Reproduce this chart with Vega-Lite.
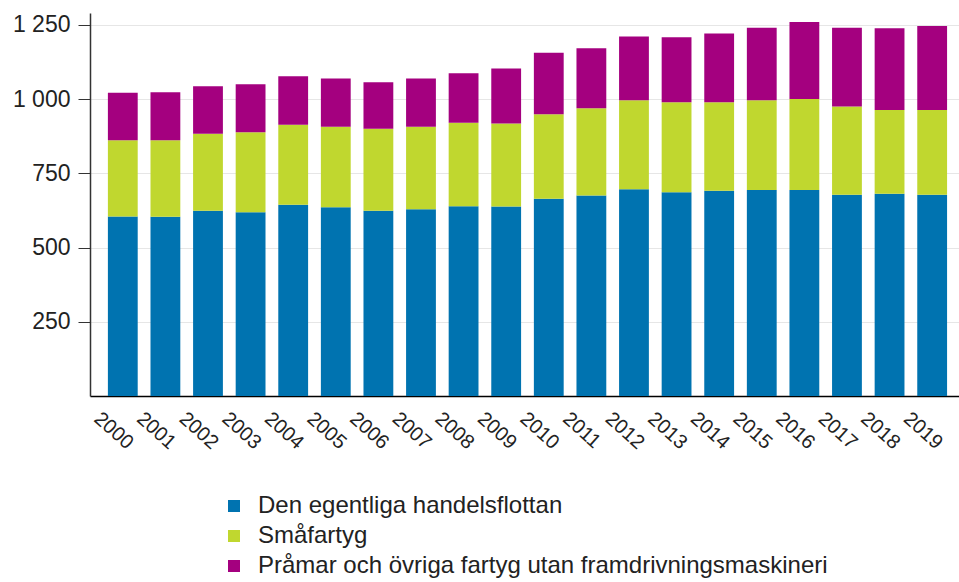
{
  "$schema": "https://vega.github.io/schema/vega-lite/v6.json",
  "autosize": "none",
  "width": 869,
  "height": 383,
  "padding": {"left": 90, "top": 13, "right": 0, "bottom": 186},
  "background": "white",
  "data": {
    "values": [
      {"year": "2000", "series": "Den egentliga handelsflottan", "o": 1, "value": 605},
      {"year": "2000", "series": "Småfartyg", "o": 2, "value": 256},
      {"year": "2000", "series": "Pråmar och övriga fartyg utan framdrivningsmaskineri", "o": 3, "value": 160},
      {"year": "2001", "series": "Den egentliga handelsflottan", "o": 1, "value": 604},
      {"year": "2001", "series": "Småfartyg", "o": 2, "value": 257},
      {"year": "2001", "series": "Pråmar och övriga fartyg utan framdrivningsmaskineri", "o": 3, "value": 162},
      {"year": "2002", "series": "Den egentliga handelsflottan", "o": 1, "value": 624},
      {"year": "2002", "series": "Småfartyg", "o": 2, "value": 259},
      {"year": "2002", "series": "Pråmar och övriga fartyg utan framdrivningsmaskineri", "o": 3, "value": 160},
      {"year": "2003", "series": "Den egentliga handelsflottan", "o": 1, "value": 619},
      {"year": "2003", "series": "Småfartyg", "o": 2, "value": 269},
      {"year": "2003", "series": "Pråmar och övriga fartyg utan framdrivningsmaskineri", "o": 3, "value": 162},
      {"year": "2004", "series": "Den egentliga handelsflottan", "o": 1, "value": 644},
      {"year": "2004", "series": "Småfartyg", "o": 2, "value": 270},
      {"year": "2004", "series": "Pråmar och övriga fartyg utan framdrivningsmaskineri", "o": 3, "value": 163},
      {"year": "2005", "series": "Den egentliga handelsflottan", "o": 1, "value": 636},
      {"year": "2005", "series": "Småfartyg", "o": 2, "value": 271},
      {"year": "2005", "series": "Pråmar och övriga fartyg utan framdrivningsmaskineri", "o": 3, "value": 162},
      {"year": "2006", "series": "Den egentliga handelsflottan", "o": 1, "value": 624},
      {"year": "2006", "series": "Småfartyg", "o": 2, "value": 276},
      {"year": "2006", "series": "Pråmar och övriga fartyg utan framdrivningsmaskineri", "o": 3, "value": 157},
      {"year": "2007", "series": "Den egentliga handelsflottan", "o": 1, "value": 629},
      {"year": "2007", "series": "Småfartyg", "o": 2, "value": 278},
      {"year": "2007", "series": "Pråmar och övriga fartyg utan framdrivningsmaskineri", "o": 3, "value": 162},
      {"year": "2008", "series": "Den egentliga handelsflottan", "o": 1, "value": 639},
      {"year": "2008", "series": "Småfartyg", "o": 2, "value": 281},
      {"year": "2008", "series": "Pråmar och övriga fartyg utan framdrivningsmaskineri", "o": 3, "value": 167},
      {"year": "2009", "series": "Den egentliga handelsflottan", "o": 1, "value": 638},
      {"year": "2009", "series": "Småfartyg", "o": 2, "value": 280},
      {"year": "2009", "series": "Pråmar och övriga fartyg utan framdrivningsmaskineri", "o": 3, "value": 185},
      {"year": "2010", "series": "Den egentliga handelsflottan", "o": 1, "value": 664},
      {"year": "2010", "series": "Småfartyg", "o": 2, "value": 285},
      {"year": "2010", "series": "Pråmar och övriga fartyg utan framdrivningsmaskineri", "o": 3, "value": 207},
      {"year": "2011", "series": "Den egentliga handelsflottan", "o": 1, "value": 675},
      {"year": "2011", "series": "Småfartyg", "o": 2, "value": 294},
      {"year": "2011", "series": "Pråmar och övriga fartyg utan framdrivningsmaskineri", "o": 3, "value": 202},
      {"year": "2012", "series": "Den egentliga handelsflottan", "o": 1, "value": 696},
      {"year": "2012", "series": "Småfartyg", "o": 2, "value": 300},
      {"year": "2012", "series": "Pråmar och övriga fartyg utan framdrivningsmaskineri", "o": 3, "value": 215},
      {"year": "2013", "series": "Den egentliga handelsflottan", "o": 1, "value": 686},
      {"year": "2013", "series": "Småfartyg", "o": 2, "value": 303},
      {"year": "2013", "series": "Pråmar och övriga fartyg utan framdrivningsmaskineri", "o": 3, "value": 219},
      {"year": "2014", "series": "Den egentliga handelsflottan", "o": 1, "value": 691},
      {"year": "2014", "series": "Småfartyg", "o": 2, "value": 298},
      {"year": "2014", "series": "Pråmar och övriga fartyg utan framdrivningsmaskineri", "o": 3, "value": 232},
      {"year": "2015", "series": "Den egentliga handelsflottan", "o": 1, "value": 694},
      {"year": "2015", "series": "Småfartyg", "o": 2, "value": 302},
      {"year": "2015", "series": "Pråmar och övriga fartyg utan framdrivningsmaskineri", "o": 3, "value": 244},
      {"year": "2016", "series": "Den egentliga handelsflottan", "o": 1, "value": 694},
      {"year": "2016", "series": "Småfartyg", "o": 2, "value": 306},
      {"year": "2016", "series": "Pråmar och övriga fartyg utan framdrivningsmaskineri", "o": 3, "value": 260},
      {"year": "2017", "series": "Den egentliga handelsflottan", "o": 1, "value": 678},
      {"year": "2017", "series": "Småfartyg", "o": 2, "value": 297},
      {"year": "2017", "series": "Pråmar och övriga fartyg utan framdrivningsmaskineri", "o": 3, "value": 265},
      {"year": "2018", "series": "Den egentliga handelsflottan", "o": 1, "value": 681},
      {"year": "2018", "series": "Småfartyg", "o": 2, "value": 282},
      {"year": "2018", "series": "Pråmar och övriga fartyg utan framdrivningsmaskineri", "o": 3, "value": 276},
      {"year": "2019", "series": "Den egentliga handelsflottan", "o": 1, "value": 678},
      {"year": "2019", "series": "Småfartyg", "o": 2, "value": 285},
      {"year": "2019", "series": "Pråmar och övriga fartyg utan framdrivningsmaskineri", "o": 3, "value": 283}
    ]
  },
  "mark": {"type": "bar"},
  "encoding": {
    "x": {
      "field": "year",
      "type": "ordinal",
      "scale": {"paddingInner": 0.3, "paddingOuter": 0.35, "align": 0.6},
      "axis": {
        "title": null,
        "labelAngle": 42,
        "labelAlign": "left",
        "labelBaseline": "top",
        "labelOffset": -19,
        "labelPadding": 12,
        "labelFont": "Liberation Sans",
        "labelFontSize": 20,
        "labelColor": "#222222",
        "ticks": false,
        "domainColor": "#000000",
        "domainWidth": 1.5,
        "grid": false
      }
    },
    "y": {
      "field": "value",
      "type": "quantitative",
      "aggregate": "sum",
      "stack": "zero",
      "scale": {"domain": [0, 1290], "nice": false},
      "axis": {
        "title": null,
        "values": [250, 500, 750, 1000, 1250],
        "labelExpr": "replace(format(datum.value, ','), ',', ' ')",
        "labelFont": "Liberation Sans",
        "labelFontSize": 23,
        "labelColor": "#222222",
        "labelPadding": 8,
        "tickSize": 12,
        "tickColor": "#333333",
        "domainColor": "#333333",
        "domainWidth": 1.5,
        "gridColor": "#e6e6e6",
        "gridWidth": 1.2
      }
    },
    "color": {
      "field": "series",
      "type": "nominal",
      "sort": ["Den egentliga handelsflottan", "Småfartyg", "Pråmar och övriga fartyg utan framdrivningsmaskineri"],
      "scale": {
        "domain": ["Den egentliga handelsflottan", "Småfartyg", "Pråmar och övriga fartyg utan framdrivningsmaskineri"],
        "range": ["#0073b0", "#c0d72f", "#a4007f"]
      },
      "legend": {
        "title": null,
        "orient": "none",
        "legendX": 132,
        "legendY": 481,
        "direction": "vertical",
        "symbolType": "square",
        "symbolSize": 144,
        "symbolStrokeWidth": 0,
        "labelFont": "Liberation Sans",
        "labelFontSize": 24,
        "labelColor": "#222222",
        "labelOffset": 12,
        "rowPadding": 6,
        "labelLimit": 800
      }
    },
    "order": {"field": "o", "type": "quantitative", "sort": "ascending"}
  },
  "config": {"view": {"stroke": null}}
}
